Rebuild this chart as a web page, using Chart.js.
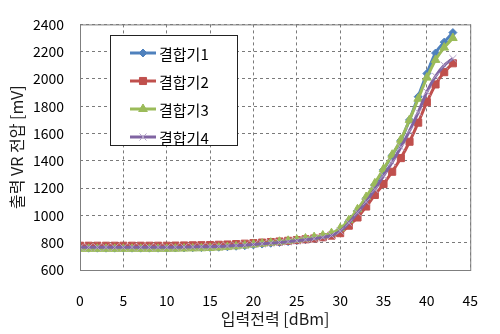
<!DOCTYPE html>
<html>
<head>
<meta charset="utf-8">
<script src="https://cdn.jsdelivr.net/npm/chart.js@4"></script>
<style>
  html, body { margin: 0; padding: 0; background: #fff; }
  #wrap { width: 500px; height: 334px; position: relative; }
</style>
</head>
<body>
<div id="wrap"><canvas id="c" width="500" height="334"></canvas></div>
<script>
// 입력전력 [dBm]
const inputPower = [0,1,2,3,4,5,6,7,8,9,10,11,12,13,14,15,16,17,18,19,20,21,22,23,24,25,26,27,28,29,30,31,32,33,34,35,36,37,38,39,40,41,42,43];
// 출력 VR 전압 [mV]
const coupler1 = [760,760,760,760,760,760,760,760,760,760,760,761,762,763,764,765,767,770,774,778,784,790,796,802,808,815,822,830,840,856,895,955,1035,1125,1225,1335,1440,1550,1700,1870,2040,2190,2270,2340];
const coupler2 = [778,778,778,778,778,778,778,778,778,778,778,779,780,781,782,783,785,787,790,793,797,801,805,809,814,819,825,831,840,852,870,925,985,1065,1150,1230,1320,1420,1540,1680,1830,1960,2050,2115];
const coupler3 = [755,755,755,755,755,755,755,755,755,755,755,756,757,758,759,761,764,768,773,779,786,793,800,807,814,822,831,841,853,870,905,965,1045,1135,1235,1340,1445,1555,1700,1855,2010,2140,2230,2300];
const coupler4 = [766,766,766,766,766,766,766,766,766,766,766,767,768,769,770,771,773,776,779,782,787,792,797,802,808,814,821,829,839,853,885,945,1020,1100,1190,1290,1390,1500,1620,1755,1905,2020,2100,2150];
const seriesNames = ['결합기1', '결합기2', '결합기3', '결합기4'];
const xTicks = [0, 5, 10, 15, 20, 25, 30, 35, 40, 45];
const yTicks = [600, 800, 1000, 1200, 1400, 1600, 1800, 2000, 2200, 2400];

const FONT = '"Noto Sans CJK KR", "Noto Sans", sans-serif';
const colors = ['#4F81BD', '#C0504D', '#9BBB59', '#8064A2'];
const markers = [
  { style: 'rectRot', r: 4 },
  { style: 'rect', r: 5 },
  { style: 'triangle', r: 5 },
  { style: 'crossRot', r: 5 },
];

function mkSet(i, vals) {
  return {
    label: seriesNames[i],
    data: inputPower.map((x, k) => ({ x, y: vals[k] })),
    borderColor: colors[i],
    backgroundColor: colors[i],
    borderWidth: 3,
    pointStyle: markers[i].style,
    pointRadius: markers[i].r,
    pointBorderWidth: 1,
    pointBorderColor: i === 3 ? '#B3A2C7' : colors[i],
    cubicInterpolationMode: 'monotone',
    order: 4 - i,   // 결합기4 위에 그려지도록
  };
}

// 플롯 영역 테두리 + 범례 박스
const frame = {
  id: 'frame',
  afterDatasetsDraw(chart) {
    const { ctx, chartArea: a } = chart;
    ctx.save();
    ctx.strokeStyle = '#7f7f7f';
    ctx.lineWidth = 1;
    ctx.strokeRect(a.left + 0.5, a.top + 0.5, a.right - a.left, a.bottom - a.top);
    ctx.restore();
  },
  afterDraw(chart) {
    const { ctx } = chart;
    ctx.save();
    const bx = 110, by = 35, bw = 127, bh = 110;
    ctx.fillStyle = '#fff';
    ctx.fillRect(bx, by, bw, bh);
    ctx.strokeStyle = '#222';
    ctx.lineWidth = 1;
    ctx.strokeRect(bx + 0.5, by + 0.5, bw, bh);
    ctx.font = '15px ' + FONT;
    ctx.textBaseline = 'middle';
    seriesNames.forEach((n, i) => {
      const y = by + 18 + i * 28;
      ctx.strokeStyle = colors[i];
      ctx.lineWidth = 3;
      ctx.beginPath(); ctx.moveTo(130, y); ctx.lineTo(156, y); ctx.stroke();
      ctx.fillStyle = colors[i];
      ctx.strokeStyle = i === 3 ? '#B3A2C7' : colors[i];
      ctx.lineWidth = 1;
      Chart.helpers.drawPoint(ctx, { pointStyle: markers[i].style, radius: markers[i].r, borderWidth: 1 }, 143, y);
      ctx.fillStyle = '#000';
      ctx.fillText(n, 159, y + 1);
    });
    ctx.restore();
  },
};

new Chart(document.getElementById('c'), {
  type: 'line',
  data: { datasets: [mkSet(0, coupler1), mkSet(1, coupler2), mkSet(2, coupler3), mkSet(3, coupler4)] },
  plugins: [frame],
  options: {
    responsive: false,
    animation: false,
    layout: { padding: { top: 15, right: 11, left: 0, bottom: 0 } },
    plugins: { legend: { display: false }, tooltip: { enabled: false } },
    scales: {
      x: {
        type: 'linear', min: 0, max: 45,
        afterBuildTicks: s => { s.ticks = xTicks.map(v => ({ value: v })); },
        afterFit: s => { s.height = 64; },
        grid: { color: '#7a7a7a', drawTicks: false, tickLength: 0 },
        border: { display: false, dash: [3, 3] },
        ticks: { padding: 22, color: '#000', font: { family: FONT, size: 14 }, maxRotation: 0, callback: v => String(v) },
        title: { display: true, text: '입력전력 [dBm]', color: '#1a1a1a', font: { family: FONT, size: 16 }, padding: { top: 2, bottom: 5 } },
      },
      y: {
        min: 600, max: 2400,
        afterBuildTicks: s => { s.ticks = yTicks.map(v => ({ value: v })); },
        afterFit: s => { s.width = 80; },
        grid: { color: '#7a7a7a', drawTicks: false, tickLength: 0 },
        border: { display: false, dash: [3, 3] },
        ticks: { padding: 16, color: '#000', font: { family: FONT, size: 14 }, callback: v => String(v) },
        title: { display: true, text: '출력 VR 전압 [mV]', color: '#1a1a1a', font: { family: FONT, size: 16 }, padding: { top: 7, bottom: 0 } },
      },
    },
  },
});
</script>
</body>
</html>
